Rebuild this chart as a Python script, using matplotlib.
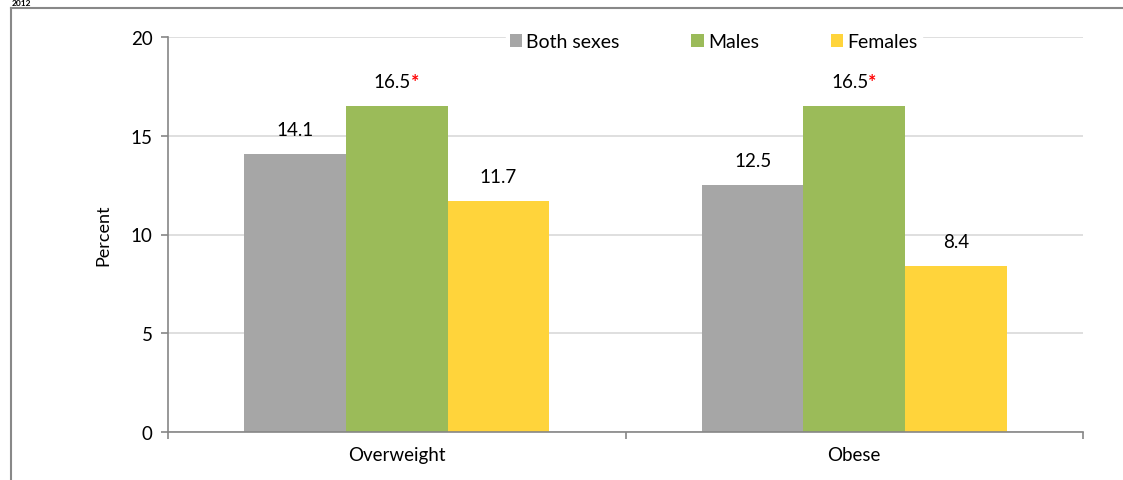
import matplotlib.pyplot as plt
import numpy as np
from matplotlib.lines import Line2D

categories = ["Overweight", "Obese"]
series = ["Both sexes", "Males", "Females"]
both_sexes = [14.1, 12.5]
males = [16.5, 16.5]
females = [11.7, 8.4]
significant = [False, True, False]
colors = ["#A6A6A6", "#9BBB59", "#FFD43B"]

plt.rcParams['font.family'] = ['Lato', 'DejaVu Sans']

fig = plt.figure(figsize=(11.23, 4.81), dpi=100)
ax = fig.add_axes([168 / 1123, 1 - 433 / 481, (1083 - 168) / 1123, (433 - 38) / 481])

x = np.arange(len(categories))
width = 0.222
values = [both_sexes, males, females]
for i, (name, vals) in enumerate(zip(series, values)):
    pos = x + (i - 1) * width
    ax.bar(pos, vals, width, color=colors[i], label=name, zorder=2)
    for xp, v in zip(pos, vals):
        if significant[i]:
            t = ax.text(xp - 0.01, v + 0.8, f"{v:.1f}", ha="center", va="bottom", fontsize=13.5)
            ax.annotate("*", xy=(1, 0), xycoords=t, xytext=(0, 0), textcoords="offset points",
                        ha="left", va="bottom", color="#FF0000", fontsize=14, fontweight="bold")
        else:
            ax.text(xp, v + 0.8, f"{v:.1f}", ha="center", va="bottom", fontsize=13.5)

ax.set_xlim(-0.5, 1.5)
ax.set_ylim(0, 20)
ax.set_yticks([0, 5, 10, 15, 20])
ax.set_xticks(x)
ax.set_xticklabels(categories)
ax.set_xticks([-0.5, 0.5, 1.5], minor=True)
ax.tick_params(axis="x", which="major", length=0, pad=10, labelsize=13.5)
ax.tick_params(axis="x", which="minor", length=5, color="#868686", width=1.2)
ax.tick_params(axis="y", length=5, color="#868686", width=1.2, labelsize=13.5, pad=6)
ax.yaxis.grid(True, color="#D9D9D9", linewidth=1.2, zorder=0)
ax.set_axisbelow(True)
for s in ["top", "right"]:
    ax.spines[s].set_visible(False)
for s in ["left", "bottom"]:
    ax.spines[s].set_color("#868686")
    ax.spines[s].set_linewidth(1.2)
ax.set_ylabel("Percent", fontsize=13, labelpad=14)

leg = ax.legend(loc="upper left", bbox_to_anchor=(0.369, 1.02), ncol=3, frameon=True,
                fontsize=14, handlelength=0.65, handleheight=0.65, handletextpad=0.2,
                columnspacing=3.7, borderpad=0.2, fancybox=False, borderaxespad=0)
leg.get_frame().set_edgecolor("white")
leg.get_frame().set_facecolor("white")
leg.get_frame().set_alpha(1)

# outer chart frame
fig.add_artist(Line2D([11 / 1123, 11 / 1123], [0, 1 - 9 / 481], color="#888888", linewidth=1.5))
fig.add_artist(Line2D([11 / 1123, 1], [1 - 9 / 481, 1 - 9 / 481], color="#888888", linewidth=1.5))
fig.text(12 / 1123, 1, "2012", fontsize=6, fontweight="bold", va="top", ha="left")

fig.savefig("out.png", dpi=100)
